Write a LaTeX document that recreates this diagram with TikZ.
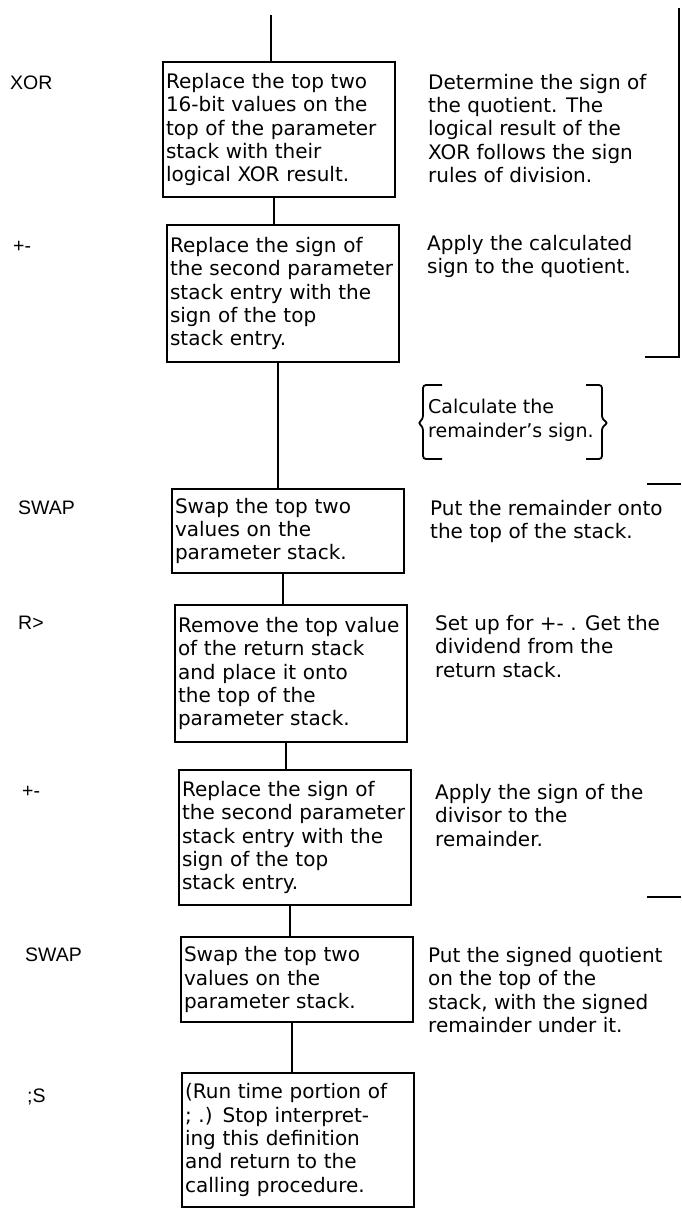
\documentclass[tikz,border=0pt]{standalone}
\usepackage{fontspec}
\setmainfont{DejaVu Sans}
\newfontfamily\labfont{Liberation Sans}
\begin{document}
\begin{tikzpicture}[x=1pt,y=-1pt,
  stepbox/.style={draw, line width=1.7pt, anchor=north west, outer sep=0pt,
    inner xsep=3pt, inner ysep=0pt, text width=226pt, align=left,
    font=\fontsize{20}{23.3}\selectfont},
  note/.style={anchor=north west, inner sep=0pt, align=left,
    font=\fontsize{20}{23.3}\selectfont},
  lab/.style={anchor=west, inner sep=0pt, font=\labfont\fontsize{19.5}{22}\selectfont},
  conn/.style={line width=1.8pt},
  brk/.style={line width=1.8pt}]
\fill[white] (0,0) rectangle (681,1209);
\useasboundingbox (0,0) rectangle (681,1209);

% boxes
\node[stepbox, minimum height=135pt] (b1) at (163,62)
  {Replace the top two\\16-bit values on the\\top of the parameter\\stack with their\\logical XOR result.};
\node[stepbox, minimum height=137pt] (b2) at (167,225)
  {Replace the sign of\\the second parameter\\stack entry with the\\sign of the top\\stack entry.};
\node[stepbox, minimum height=84pt] (b3) at (172,489)
  {Swap the top two\\values on the\\parameter stack.};
\node[stepbox, minimum height=137pt] (b4) at (175,605)
  {Remove the top value\\of the return stack\\and place it onto\\the top of the\\parameter stack.};
\node[stepbox, minimum height=135pt] (b5) at (179,770)
  {Replace the sign of\\the second parameter\\stack entry with the\\sign of the top\\stack entry.};
\node[stepbox, minimum height=85pt] (b6) at (181,937)
  {Swap the top two\\values on the\\parameter stack.};
\node[stepbox, minimum height=134pt] (b7) at (182,1073)
  {(Run time portion of\\; .) Stop interpret-\\ing this definition\\and return to the\\calling procedure.};

% connectors
\coordinate (top) at (271,15);
\draw[conn] (top) -- (top |- b1.north);
\draw[conn] ([xshift=-5pt]b1.south) -- ([xshift=-5pt]b1.south |- b2.north);
\draw[conn] ([xshift=-5pt]b2.south) -- ([xshift=-5pt]b2.south |- b3.north);
\draw[conn] ([xshift=-5pt]b3.south) -- ([xshift=-5pt]b3.south |- b4.north);
\draw[conn] ([xshift=-5pt]b4.south) -- ([xshift=-5pt]b4.south |- b5.north);
\draw[conn] ([xshift=-5pt]b5.south) -- ([xshift=-5pt]b5.south |- b6.north);
\draw[conn] ([xshift=-5pt]b6.south) -- ([xshift=-5pt]b6.south |- b7.north);

% left labels
\node[lab] (l1) at (10,83) {XOR};
\node[lab] (l2) at (13,247) {+-};
\node[lab] (l3) at (18,508) {SWAP};
\node[lab] (l4) at (18,623) {R>};
\node[lab] (l5) at (22,792) {+-};
\node[lab] (l6) at (25,955) {SWAP};
\node[lab] (l7) at (27,1097) {;S};

% right notes
\node[note] (n1) at (428,74)
  {Determine the sign of\\the quotient. The\\logical result of the\\XOR follows the sign\\rules of division.};
\node[note] (n2) at (427,235)
  {Apply the calculated\\sign to the quotient.};
\node[note, font=\fontsize{19}{24}\selectfont] (n3) at (428,399)
  {Calculate the\\remainder's sign.};
\node[note] (n4) at (430,500)
  {Put the remainder onto\\the top of the stack.};
\node[note] (n5) at (435,615)
  {Set up for +- . Get the\\dividend from the\\return stack.};
\node[note] (n6) at (435,784)
  {Apply the sign of the\\divisor to the\\remainder.};
\node[note] (n7) at (428,947)
  {Put the signed quotient\\on the top of the\\stack, with the signed\\remainder under it.};

% braces round the middle note
\draw[brk, rounded corners=3pt] (442,385) -- (423,385) -- (423,419) -- (418,423) -- (423,427) -- (423,459) -- (442,459);
\draw[brk, rounded corners=3pt] (586,385) -- (602,385) -- (602,419) -- (608,423) -- (602,427) -- (602,459) -- (586,459);

% right-hand brackets
\draw[brk] (679,8) -- (679,357) -- (645,357);
\draw[brk] (647,484) -- (681,484);
\draw[brk] (647,897) -- (681,897);
\end{tikzpicture}
\end{document}
